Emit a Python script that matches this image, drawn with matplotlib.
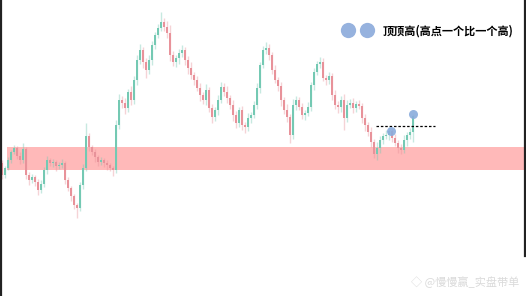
import numpy as np
import matplotlib.pyplot as plt
from matplotlib.lines import Line2D

plt.rcParams['font.family'] = ['Noto Sans CJK SC', 'DejaVu Sans']

# closing prices, one per candle (open = previous close)
first_open = 137
closes = [125, 132, 140, 148, 152, 144, 140, 151, 125, 120,
          123, 118, 110, 116, 130, 140, 137, 138, 134, 135,
          137, 120, 112, 104, 95, 92, 115, 132, 164, 153,
          148, 143, 138, 140, 137, 135, 132, 130, 175, 200,
          197, 192, 208, 200, 220, 240, 250, 238, 230, 240,
          255, 265, 272, 278, 273, 267, 245, 238, 242, 247,
          250, 240, 232, 225, 220, 212, 205, 200, 210, 192,
          183, 190, 200, 213, 208, 202, 195, 185, 177, 190,
          175, 173, 182, 185, 195, 212, 235, 250, 252, 245,
          230, 220, 214, 200, 190, 183, 165, 195, 200, 193,
          185, 187, 193, 215, 228, 236, 238, 222, 220, 224,
          205, 195, 193, 200, 182, 195, 197, 192, 196, 194,
          182, 175, 168, 158, 146, 152, 160, 164, 165, 169,
          162, 157, 152, 150, 160, 165, 168, 184]

# wick lengths above / below the body
wick_up = [3, 2, 3, 2, 3, 2, 4, 6, 2, 3,
           3, 2, 3, 4, 3, 4, 2, 3, 2, 3,
           4, 2, 3, 2, 2, 2, 3, 4, 13, 3,
           2, 3, 2, 3, 2, 3, 2, 2, 5, 6,
           4, 5, 3, 6, 4, 5, 6, 3, 4, 5,
           4, 3, 4, 10, 4, 6, 8, 4, 3, 4,
           5, 3, 4, 6, 3, 4, 5, 3, 6, 3,
           4, 3, 5, 5, 4, 6, 3, 5, 4, 3,
           4, 3, 5, 3, 4, 5, 3, 4, 6, 4,
           3, 5, 3, 4, 3, 6, 3, 6, 4, 3,
           4, 3, 5, 3, 4, 3, 5, 4, 3, 4,
           3, 5, 4, 4, 6, 5, 4, 5, 3, 4,
           3, 4, 3, 5, 3, 6, 4, 3, 5, 4,
           3, 4, 3, 4, 5, 3, 4, 2]
wick_dn = [4, 3, 2, 3, 2, 3, 4, 3, 4, 5,
           3, 4, 5, 3, 3, 4, 3, 4, 5, 3,
           3, 4, 3, 5, 4, 10, 3, 4, 3, 4,
           3, 5, 4, 3, 4, 5, 3, 6, 3, 4,
           5, 6, 4, 5, 4, 5, 4, 6, 8, 4,
           5, 4, 3, 3, 4, 5, 6, 4, 5, 6,
           4, 5, 6, 4, 5, 3, 6, 4, 5, 4,
           6, 4, 5, 3, 4, 5, 4, 6, 5, 4,
           5, 6, 4, 5, 3, 4, 5, 3, 4, 5,
           4, 3, 5, 6, 4, 5, 8, 4, 5, 3,
           4, 5, 3, 4, 5, 3, 4, 3, 5, 4,
           5, 4, 6, 5, 12, 4, 3, 5, 4, 3,
           5, 6, 4, 5, 4, 6, 5, 4, 3, 5,
           4, 3, 5, 4, 3, 6, 4, 10]

zone_low, zone_high = 130, 153      # support band
breakout_level = 174                # dashed line
dot_x = [129.7, 137]
dot_y = [169, 186]
legend_text = '顶顶高(高点一个比一个高)'
watermark = '◇ @慢慢赢_实盘带单'

UP = '#74c9b3'
DOWN = '#e8929a'

opens = [first_open] + closes[:-1]
n = len(closes)
x = np.arange(n)
o = np.array(opens, float)
c = np.array(closes, float)
top = np.maximum(o, c)
bot = np.minimum(o, c)
hi = top + np.array(wick_up)
lo = bot - np.array(wick_dn)
cols = [UP if cc >= oo else DOWN for oo, cc in zip(o, c)]

fig = plt.figure(figsize=(5.26, 2.96), dpi=100)
ax = fig.add_axes([0, 0, 1, 1])
ax.set_xlim(-2 / 3, 526 / 3 - 2 / 3)
ax.set_ylim(4, 300)
ax.axis('off')

ax.axhspan(zone_low, zone_high, xmin=7 / 526, xmax=1, color='#ffb9b9', lw=0, zorder=1)

ax.vlines(x, lo, hi, colors=cols, lw=1, alpha=0.4, zorder=2)
h = np.maximum(top - bot, 1)
ax.bar(x, h, bottom=bot, width=0.85, color=cols, lw=0, zorder=3)

ax.hlines(breakout_level, 124.7, 144.3, colors='black', lw=0.9,
          linestyles=(0, (2, 1.5)), zorder=4)
ax.plot(dot_x, dot_y, 'o', ms=6.5, color='#8aacdc', alpha=0.9, mec='none', zorder=5)

# legend-like header
ax.plot([115.3, 121.7], [270, 270], 'o', ms=11, color='#96b2de', mec='none')
ax.text(127, 269, legend_text, fontsize=8, fontweight='bold', va='center', ha='left')

ax.text(517 / 3, 18, watermark, fontsize=8, color='#dadada', ha='right', va='center')

# frame edges
fig.add_artist(Line2D([1 / 526, 1 / 526], [0, 1], color='#222222', lw=1.6))
fig.add_artist(Line2D([524.5 / 526, 524.5 / 526], [40 / 296, 1], color='#222222', lw=1.6))

fig.savefig('out.png', dpi=100)
